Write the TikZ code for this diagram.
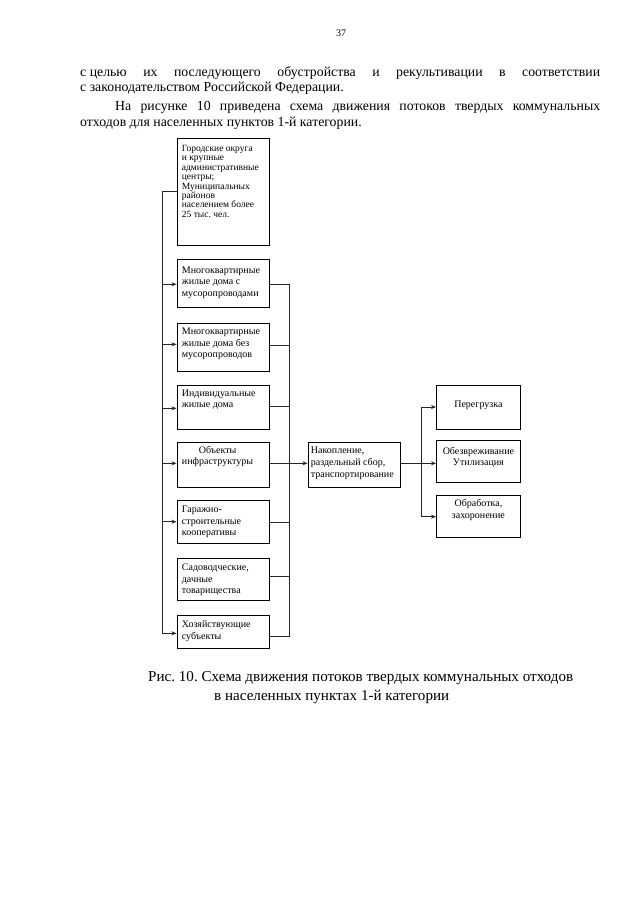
\documentclass[tikz,border=0pt]{standalone}
\usepackage{fontspec}
\setmainfont{Liberation Serif}
\usetikzlibrary{arrows.meta}
\frenchspacing
\newcommand\bxt[4]{\parbox[c][#1][t]{#2}{\raggedright\rule{0pt}{#3}#4}}
\newcommand\bxc[4]{\parbox[c][#1][t]{#2}{\centering\rule{0pt}{#3}#4}}
\begin{document}
\begin{tikzpicture}[x=1pt,y=-1pt,
  box/.style={draw=black, line width=0.8pt, anchor=north west, inner xsep=5pt, inner ysep=0pt,
    font=\fontsize{10}{11.4}\selectfont},
  conn/.style={draw=black!85, line width=0.8pt},
  arr/.style={conn, -{Stealth[length=5pt,width=4pt]}},
  body/.style={anchor=base west, inner sep=0pt, font=\fontsize{13.8}{16}\selectfont},
  capt/.style={anchor=base west, inner sep=0pt, font=\fontsize{15.1}{18}\selectfont}]
\useasboundingbox[fill=white] (0,0) rectangle (640,905);

% page text
\node[anchor=base, inner sep=0pt, font=\fontsize{10}{12}\selectfont] (pg) at (341,36) {37};
\node[body] (l1) at (80,76) {\makebox[520pt][s]{\mbox{с целью} их последующего обустройства и рекультивации в соответствии}};
\node[body] (l2) at (80,91) {с законодательством Российской Федерации.};
\node[body] (l3) at (115,110) {\makebox[485pt][s]{На рисунке 10 приведена схема движения потоков твердых коммунальных}};
\node[body] (l4) at (80,126) {отходов для населенных пунктов 1-й категории.};

% left column boxes
\node[box, font=\fontsize{9.5}{9.4}\selectfont] (b1) at (176.5,138) {\bxt{107pt}{82.5pt}{13pt}{Городские округа\\и крупные\\административные\\центры;\\Муниципальных\\районов\\населением более\\25 тыс. чел.}};
\node[box] (b2) at (176.5,259) {\bxt{48pt}{82.5pt}{14pt}{Многоквартирные\\жилые дома с\\мусоропроводами}};
\node[box] (b3) at (176.5,323) {\bxt{48pt}{82.5pt}{11.5pt}{Многоквартирные\\жилые дома без\\мусоропроводов}};
\node[box] (b4) at (176.5,385) {\bxt{44pt}{82.5pt}{10.8pt}{Индивидуальные\\жилые дома}};
\node[box] (b5) at (176.5,442) {\bxt{45pt}{82.5pt}{10.6pt}{\hspace*{17pt}Объекты\\инфраструктуры}};
\node[box] (b6) at (176.5,500) {\bxt{43pt}{82.5pt}{12.3pt}{Гаражно-\\строительные\\кооперативы}};
\node[box] (b7) at (176.5,558) {\bxt{42pt}{82.5pt}{12.3pt}{Садоводческие,\\дачные\\товарищества}};
\node[box] (b8) at (176.5,615) {\bxt{33pt}{82.5pt}{12.3pt}{Хозяйствующие\\субъекты}};

% middle box
\node[box, inner xsep=3pt, font=\fontsize{10}{12}\selectfont] (m) at (307.5,442) {\bxt{45pt}{86.5pt}{10.8pt}{Накопление,\\раздельный сбор,\\транспортирование}};

% right boxes
\node[box] (r1) at (436,385) {\bxc{44pt}{74pt}{22pt}{Перегрузка}};
\node[box, font=\fontsize{10}{11}\selectfont] (r2) at (436,440) {\bxc{42pt}{74pt}{14pt}{Обезвреживание\\Утилизация}};
\node[box, font=\fontsize{10}{12.4}\selectfont] (r3) at (436,495) {\bxc{42pt}{74pt}{10.8pt}{Обработка,\\захоронение}};

% left bus
\coordinate (lt) at (162,191.7);
\coordinate (lb) at (162,633.3);
\draw[conn] (b1.west |- lt) -- (lt) -- (lb);
\draw[arr] (162,284.3) -- (b2.west |- 0,284.3);
\draw[arr] (162,344.3) -- (b3.west |- 0,344.3);
\draw[arr] (162,408.3) -- (b4.west |- 0,408.3);
\draw[arr] (162,463.3) -- (b5.west |- 0,463.3);
\draw[arr] (162,521.7) -- (b6.west |- 0,521.7);
\draw[arr] (lb) -- (b8.west |- lb);

% right bus
\coordinate (rt) at (289,284.3);
\coordinate (rb) at (289,636.7);
\draw[conn] (b2.east |- rt) -- (rt) -- (rb) -- (b8.east |- rb);
\draw[conn] (b3.east |- 0,345.7) -- (289,345.7);
\draw[conn] (b4.east |- 0,406.7) -- (289,406.7);
\draw[conn] (b6.east |- 0,522.3) -- (289,522.3);
\draw[conn] (b7.east |- 0,576.7) -- (289,576.7);
\draw[arr] (b5.east |- 0,463.3) -- (m.west |- 0,463.3);

% right branch
\coordinate (bt) at (421.5,407);
\coordinate (bb) at (421.5,516.7);
\draw[arr] (m.east |- 0,463.3) -- (r2.west |- 0,463.3);
\draw[arr] (bt) -- (r1.west |- bt);
\draw[arr] (bb) -- (r3.west |- bb);
\draw[conn] (bt) -- (bb);

% caption
\node[capt] (c1) at (148,681) {Рис. 10. Схема движения потоков твердых коммунальных отходов};
\node[capt] (c2) at (214,700) {в населенных пунктах 1-й категории};
\end{tikzpicture}
\end{document}
